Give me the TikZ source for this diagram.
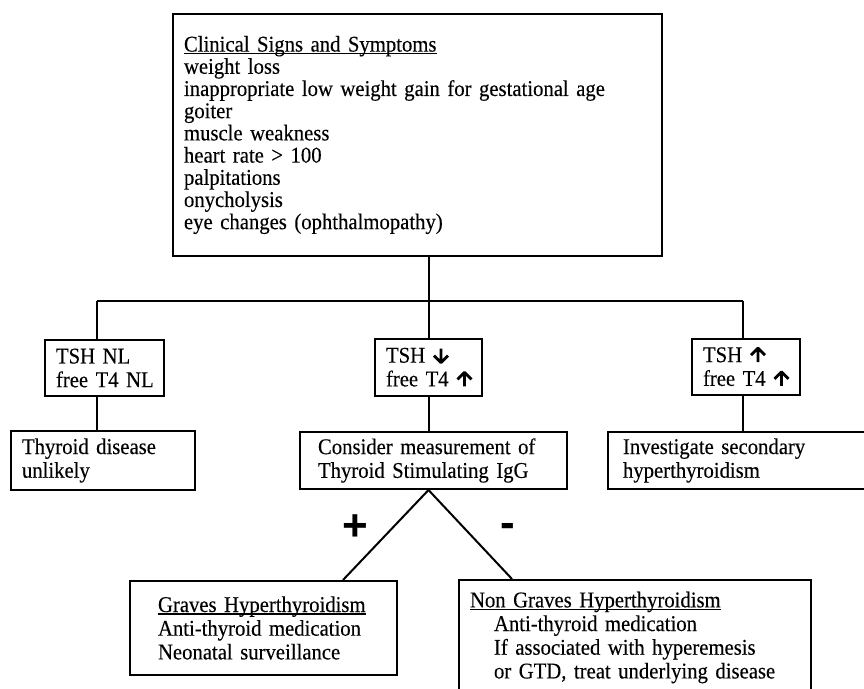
\documentclass[tikz,border=0pt]{standalone}
\usepackage{fontspec}
\setmainfont{Liberation Serif}[FakeStretch=0.92, FakeBold=0.25]
\newfontfamily\signfont{Liberation Sans}
\newcommand{\arrup}{\tikz[baseline=0pt]\draw[line width=2.8pt, line join=round]
  (0pt,0pt) -- (0pt,14pt) (-7pt,7pt) -- (0pt,14pt) -- (7pt,7pt);}
\newcommand{\arrdown}{\tikz[baseline=0pt]\draw[line width=2.8pt, line join=round]
  (0pt,14pt) -- (0pt,0pt) (-7pt,7pt) -- (0pt,0pt) -- (7pt,7pt);}
\newsavebox\hdrbox
\newcommand{\hdr}[1]{\sbox\hdrbox{#1}\rlap{\rule[-2.5pt]{\wd\hdrbox}{1.1pt}}\usebox\hdrbox}

\begin{document}
\begin{tikzpicture}[x=1pt, y=-1pt,
    box/.style={draw, line width=2pt, anchor=north west, align=left, inner ysep=0pt,
      font=\fontsize{22.5}{23.7}\selectfont},
    link/.style={line width=2pt},
    sign/.style={font=\signfont\bfseries\fontsize{44}{44}\selectfont, inner sep=0pt, anchor=base}]
  \useasboundingbox (0,0) rectangle (864,688);
  \clip (0,0) rectangle (864,688);

  \node[box, inner xsep=11pt, text width=467pt, minimum height=242pt,
    font=\fontsize{22.5}{22.2}\selectfont] (sym) at (172,13)
    {\hdr{Clinical Signs and Symptoms}\\ weight loss\\
     inappropriate low weight gain for gestational age\\ goiter\\
     muscle weakness\\ heart rate > 100\\ palpitations\\ onycholysis\\
     eye changes (ophthalmopathy)};

  \node[box, inner xsep=11pt, text width=97pt, minimum height=56pt] (tshnl) at (44,339)
    {\mbox{TSH NL}\\ \mbox{free T4 NL}};
  \node[box, inner xsep=11pt, text width=85pt, minimum height=57pt] (tshlow) at (374,338)
    {\mbox{TSH \arrdown}\\ \mbox{free T4 \arrup}};
  \node[box, inner xsep=11pt, text width=86pt, minimum height=56pt] (tshhigh) at (691,338)
    {\mbox{TSH \arrup}\\ \mbox{free T4 \arrup}};

  \node[box, inner xsep=11pt, text width=162pt, minimum height=59pt] (unlikely) at (10,430)
    {Thyroid disease\\ unlikely};
  \node[box, inner xsep=18pt, text width=231pt, minimum height=57pt] (consider) at (299,431)
    {Consider measurement of\\ Thyroid Stimulating IgG};
  \node[box, inner xsep=15pt, text width=240pt, minimum height=57pt] (secondary) at (607,431)
    {Investigate secondary\\ hyperthyroidism};

  \node[box, inner xsep=28pt, text width=211pt, minimum height=94pt] (graves) at (129,580)
    {\hdr{Graves Hyperthyroidism}\\ Anti-thyroid medication\\ Neonatal surveillance};
  \node[box, inner xsep=11pt, text width=330pt, minimum height=115pt] (nongraves) at (458,579)
    {\hdr{Non Graves Hyperthyroidism}\\ \hspace*{24pt}Anti-thyroid medication\\
     \hspace*{24pt}If associated with hyperemesis\\
     \hspace*{24pt}or GTD, treat underlying disease};

  \coordinate (jl) at (97,301);
  \coordinate (jr) at (743,301);
  \coordinate (apex) at (tshlow.south |- consider.south);

  \draw[link] (sym.south -| tshlow.north) -- (tshlow.north);
  \draw[link] (jl) -- (jr);
  \draw[link] (jl) -- (jl |- tshnl.north);
  \draw[link] (jr) -- (jr |- tshhigh.north);
  \draw[link] (jl |- tshnl.south) -- (jl |- unlikely.north);
  \draw[link] (tshlow.south) -- (tshlow.south |- consider.north);
  \draw[link] (jr |- tshhigh.south) -- (jr |- secondary.north);
  \draw[link] (apex) -- ([xshift=214pt]graves.north west);
  \draw[link] (apex) -- ([xshift=54pt]nongraves.north west);

  \node[sign] (plus) at (355,540) {+};
  \node[sign] (minus) at (508,537) {-};
\end{tikzpicture}
\end{document}
